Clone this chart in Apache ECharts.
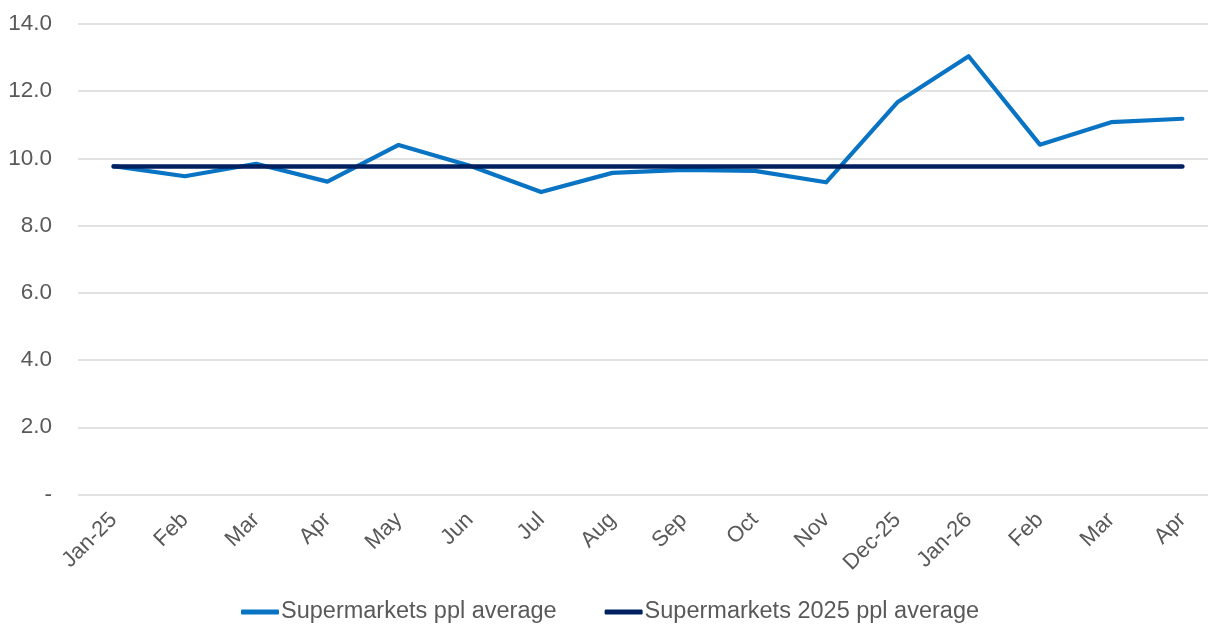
<!DOCTYPE html>
<html>
<head>
<meta charset="utf-8">
<script src="https://cdn.jsdelivr.net/npm/echarts@6/dist/echarts.min.js"></script>
<style>
  html, body { margin: 0; padding: 0; background: #ffffff; overflow: hidden; }
  /* plot area runs slightly past the right edge of the page */
  #chart { width: 1218px; height: 625px; }
</style>
</head>
<body>
<div id="chart"></div>
<script>
// Monthly categories (Jan 2025 – Apr 2026)
const months = ['Jan-25', 'Feb', 'Mar', 'Apr', 'May', 'Jun', 'Jul', 'Aug', 'Sep', 'Oct', 'Nov', 'Dec-25', 'Jan-26', 'Feb', 'Mar', 'Apr'];

// Supermarket pence-per-litre averages
const pplAverage = [9.77, 9.47, 9.84, 9.31, 10.40, 9.78, 9.00, 9.57, 9.66, 9.63, 9.29, 11.67, 13.04, 10.41, 11.08, 11.18];

// Flat 2025 average reference line
const avg2025 = [9.76, 9.76, 9.76, 9.76, 9.76, 9.76, 9.76, 9.76, 9.76, 9.76, 9.76, 9.76, 9.76, 9.76, 9.76, 9.76];

const seriesNames = ['Supermarkets ppl average', 'Supermarkets 2025 ppl average'];

const font = 'Liberation Sans, Arial, sans-serif';
const textColor = '#595959';

const chart = echarts.init(document.getElementById('chart'), null, { renderer: 'canvas' });

chart.setOption({
  animation: false,
  backgroundColor: '#ffffff',
  grid: { left: 78, top: 24, right: 0, height: 470.5, containLabel: false },
  legend: {
    bottom: 1,
    left: 241,
    padding: 0,
    itemWidth: 38,
    itemHeight: 5,
    itemGap: 48,
    icon: 'roundRect',
    textStyle: { fontFamily: font, fontSize: 23.5, color: textColor, padding: [0, 0, 0, -3] },
    data: seriesNames
  },
  xAxis: {
    type: 'category',
    data: months,
    boundaryGap: true,
    axisLine: { show: false },
    axisTick: { show: false },
    axisLabel: {
      rotate: 45,
      interval: 0,
      margin: 22,
      fontFamily: font,
      fontSize: 22,
      color: textColor
    },
    splitLine: { show: false }
  },
  yAxis: {
    type: 'value',
    min: 0,
    max: 14,
    interval: 2,
    axisLine: { show: false },
    axisTick: { show: false },
    axisLabel: {
      margin: 26,
      fontFamily: font,
      fontSize: 22.5,
      color: textColor,
      formatter: v => v === 0 ? '-' : v.toFixed(1)
    },
    splitLine: { lineStyle: { color: '#d9d9d9', width: 1.5 } }
  },
  series: [
    {
      name: seriesNames[0],
      type: 'line',
      data: pplAverage,
      symbol: 'none',
      z: 2,
      itemStyle: { color: '#0a74c4' },
      lineStyle: { color: '#0a74c4', width: 4.2, cap: 'round', join: 'round' }
    },
    {
      name: seriesNames[1],
      type: 'line',
      data: avg2025,
      symbol: 'none',
      z: 3,
      itemStyle: { color: '#00205f' },
      lineStyle: { color: '#00205f', width: 4.6, cap: 'round' }
    }
  ]
});
</script>
</body>
</html>
